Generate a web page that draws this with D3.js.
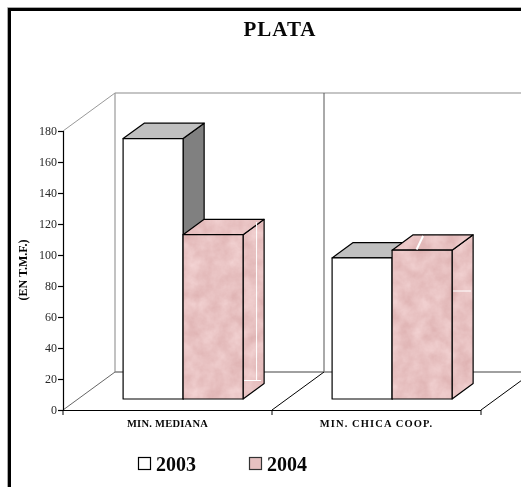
<!DOCTYPE html>
<html lang="en">
<head>
    <meta charset="UTF-8">
    <title>PLATA</title>
    <script src="https://d3js.org/d3.v7.min.js"></script>
    <style>
        body { margin: 0; padding: 0; background: #fff; }
        svg { display: block; }
        text { font-family: "Liberation Serif", serif; fill: #000; opacity: 0.97; }
    </style>
</head>
<body>
    <div id="chart-container"></div>
    <script>
        const categories = ["MIN. MEDIANA", "MIN. CHICA COOP."];
        const seriesNames = ["2003", "2004"];
        const values2003 = [168, 91];
        const values2004 = [106, 96];
        const yTicks = [0, 20, 40, 60, 80, 100, 120, 140, 160, 180];
        const title = "PLATA";
        const yLabel = "(EN T.M.F.)";
        const labelSpacing = [0.25, 1.1];

        const width = 521, height = 487;
        const svg = d3.select("#chart-container").append("svg")
            .attr("width", width)
            .attr("height", height);

        // marble texture for the 2004 bars
        const defs = svg.append("defs");
        const filter = defs.append("filter").attr("id", "marble")
            .attr("x", 0).attr("y", 0).attr("width", 1).attr("height", 1)
            .attr("color-interpolation-filters", "sRGB");
        filter.append("feTurbulence")
            .attr("type", "fractalNoise").attr("baseFrequency", 0.07)
            .attr("numOctaves", 4).attr("seed", 4).attr("result", "noise");
        filter.append("feColorMatrix").attr("in", "noise").attr("type", "matrix")
            .attr("values", "0 0 0 0.1 0.86  0 0 0 0.16 0.68  0 0 0 0.16 0.68  0 0 0 0 1")
            .attr("result", "tint");
        filter.append("feComposite").attr("in", "tint").attr("in2", "SourceAlpha").attr("operator", "in");

        // outer frame, gray edge then black
        svg.append("path").attr("d", "M7.5,487V7.5H521").attr("fill", "none").attr("stroke", "#aaa");
        svg.append("path").attr("d", "M9.5,487V9.5H521").attr("fill", "none").attr("stroke", "#000").attr("stroke-width", 3);

        // 3d projection: depth 0 = front of floor, depth 1 = back wall
        const depthX = d3.scaleLinear().domain([0, 1]).range([0, 52]);
        const depthY = d3.scaleLinear().domain([0, 1]).range([0, 38]);
        const x0 = d3.scaleBand().domain(categories).range([63.5, 481.5]).paddingInner(0.426).paddingOuter(0.213);
        const x1 = d3.scaleBand().domain(seriesNames).range([0, x0.bandwidth()]);
        const y = d3.scaleLinear().domain([0, 180]).range([410, 131]);
        const pt = (px, value, depth) => [px + depthX(depth), y(value) - depthY(depth)];
        const poly = pts => "M" + pts.map(p => p.join(",")).join("L") + "Z";
        const seg = (a, b) => d3.line()([a, b]);

        const step = x0.step();
        const edges = [63, 63 + step, 63 + 2 * step];

        // walls and floor
        const walls = svg.append("g").attr("fill", "none");
        walls.append("path").attr("d", seg(pt(63, 180, 0), pt(63, 180, 1))).attr("stroke", "#999");
        walls.append("path").attr("d", seg(pt(63, 180, 1), pt(63 + 460, 180, 1))).attr("stroke", "#b2b2b2").attr("stroke-width", 1.5);
        walls.append("path").attr("d", seg(pt(63, 180, 1), pt(63, 0, 1))).attr("stroke", "#999").attr("stroke-width", 1.2);
        walls.append("path").attr("d", seg(pt(edges[1], 180, 1), pt(edges[1], 0, 1))).attr("stroke", "#555");
        walls.append("path").attr("d", seg(pt(63, 0, 1), pt(63 + 460, 0, 1))).attr("stroke", "#808080").attr("stroke-width", 1.5);
        walls.append("path").attr("d", seg(pt(63, 0, 0), pt(63, 0, 1))).attr("stroke", "#666");
        walls.append("path").attr("d", seg(pt(edges[1], 0, 0), pt(edges[1], 0, 1))).attr("stroke", "#000");
        walls.append("path").attr("d", seg(pt(edges[2], 0, 0), pt(edges[2], 0, 1))).attr("stroke", "#000");

        // bars, front plane and back plane share the chart's depth scale
        const zFront = 0.29, zBack = 0.695;
        const drawBar = (xL, xR, v, colors) => {
            const g = svg.append("g").attr("stroke", "#000").attr("stroke-width", 1.2).attr("stroke-linejoin", "round");
            const side = [pt(xR, 0, zFront), pt(xR, v, zFront), pt(xR, v, zBack), pt(xR, 0, zBack)];
            const top = [pt(xL, v, zFront), pt(xR, v, zFront), pt(xR, v, zBack), pt(xL, v, zBack)];
            const front = [pt(xL, 0, zFront), pt(xL, v, zFront), pt(xR, v, zFront), pt(xR, 0, zFront)];
            [[side, colors.side], [top, colors.top], [front, colors.front]].forEach(([p, c]) => {
                if (c === "marble") {
                    g.append("path").attr("d", poly(p)).attr("stroke", "none").attr("fill", "#e6c1c1").attr("filter", "url(#marble)");
                    g.append("path").attr("d", poly(p)).attr("fill", "none");
                } else {
                    g.append("path").attr("d", poly(p)).attr("fill", c);
                }
            });
        };

        categories.forEach((c, i) => {
            const xStart = x0(c);
            drawBar(xStart + x1("2003"), xStart + x1("2003") + x1.bandwidth(), values2003[i], { side: "#808080", top: "#c0c0c0", front: "#fff" });
            drawBar(xStart + x1("2004"), xStart + x1("2004") + x1.bandwidth(), values2004[i], { side: "marble", top: "marble", front: "marble" });
        });

        // white streaks in the marble, measured from each bar's front right edge
        const streaks = svg.append("g").attr("stroke", "#fff").attr("stroke-width", 1).attr("fill", "none");
        const xM = x0(categories[0]) + x1("2004") + x1.bandwidth() + depthX(zFront);
        streaks.append("path").attr("d", seg([xM + 13.5, 222], [xM + 13.5, 380]));
        streaks.append("path").attr("d", seg([xM + 1, 380.5], [xM + 18, 380.5]));
        const xC = x0(categories[1]) + x1("2004") + depthX(zFront);
        streaks.append("path").attr("d", seg([xC + 31, 236], [xC + 24.5, 249.5])).attr("stroke-width", 2);
        const xCR = xC + x1.bandwidth();
        streaks.append("path").attr("d", seg([xCR + 1, 291], [xCR + 19, 291]));

        // axes
        const yAxis = d3.axisLeft(y).tickValues(yTicks).tickSize(5).tickPadding(1);
        const gy = svg.append("g").attr("transform", "translate(63,0)").call(yAxis);
        gy.selectAll("text").attr("font-size", 12).style("font-family", '"Liberation Serif", serif').style("fill", "#222");
        gy.selectAll("line,path").attr("stroke", "#000").attr("stroke-width", 1.2);

        const xAxis = svg.append("g");
        xAxis.append("path").attr("d", seg([63, 410.5], [edges[2], 410.5])).attr("stroke", "#000").attr("stroke-width", 1.2);
        edges.forEach(e => xAxis.append("path").attr("d", seg([e, 410], [e, 415])).attr("stroke", "#000"));
        categories.forEach((c, i) => {
            xAxis.append("text").attr("x", (edges[i] + edges[i + 1]) / 2).attr("y", 427)
                .attr("text-anchor", "middle").attr("font-size", 10.5).attr("font-weight", "bold")
                .attr("letter-spacing", labelSpacing[i]).text(c);
        });

        // title and axis label
        svg.append("text").attr("x", 280).attr("y", 36).attr("text-anchor", "middle")
            .attr("font-size", 21).attr("font-weight", "bold").attr("letter-spacing", 1).text(title);
        svg.append("text").attr("transform", "translate(27,270) rotate(-90)").attr("text-anchor", "middle")
            .attr("font-size", 12).attr("font-weight", "bold").text(yLabel);

        // legend
        const legendX = d3.scalePoint().domain(seriesNames).range([138.5, 249.5]);
        seriesNames.forEach(s => {
            const lx = legendX(s);
            svg.append("rect").attr("x", lx).attr("y", 457.5).attr("width", 12).attr("height", 12)
                .attr("fill", s === "2003" ? "#fff" : "#e6c1c1")
                .attr("stroke", s === "2003" ? "#000" : "#333").attr("stroke-width", 1.2);
            svg.append("text").attr("x", lx + 17.5).attr("y", 471).attr("font-size", 20).attr("font-weight", "bold").text(s);
        });
    </script>
</body>
</html>
